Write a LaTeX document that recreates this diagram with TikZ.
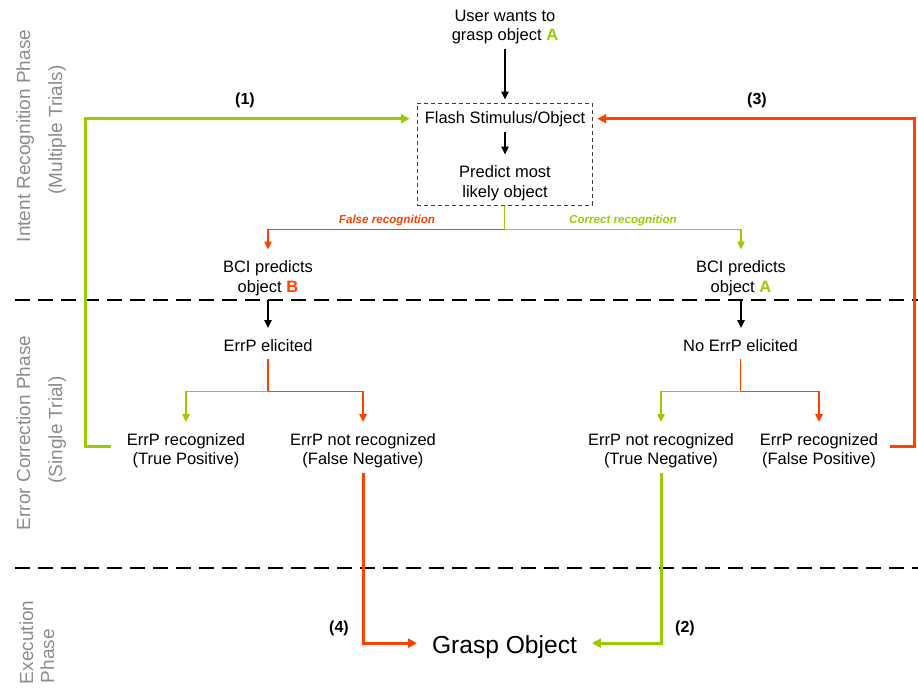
\documentclass[tikz,border=0pt]{standalone}
\usepackage{fontspec}
\setmainfont{Liberation Sans}
\usetikzlibrary{arrows.meta,calc}
\definecolor{accRed}{RGB}{255,64,0}
\definecolor{accGreen}{RGB}{153,204,0}
\definecolor{phaseGray}{RGB}{140,140,140}
\definecolor{boxGray}{RGB}{60,60,60}

\begin{document}
\begin{tikzpicture}[x=1pt,y=-1pt,
  % multi-line nodes: the base anchor sits on the last line
  txt/.style={inner sep=0pt, outer sep=0pt, align=center, anchor=base,
    font=\fontsize{16.5}{19.5}\selectfont},
  phase/.style={inner sep=0pt, outer sep=0pt, rotate=90, text=phaseGray,
    font=\fontsize{19}{21}\selectfont},
  tag/.style={inner sep=0pt, anchor=base, font=\fontsize{16}{19}\selectfont\bfseries},
  branchlbl/.style={inner sep=0pt, anchor=base, font=\fontsize{11.6}{14}\selectfont\bfseries\itshape},
  flow/.style={line width=1.3pt, -{Triangle[length=8pt,width=7.5pt]}},
  link/.style={line width=1.3pt},
  loopback/.style={line width=3pt, -{Triangle[length=9pt,width=9pt]}},
  sep/.style={line width=2pt, dash pattern=on 15pt off 8pt},
  stagebox/.style={draw=boxGray, line width=1pt, dash pattern=on 4pt off 3pt,
    minimum width=175pt, minimum height=102pt, inner sep=0pt},
]
\useasboundingbox (0,0) rectangle (918,688);

% phase separators
\draw[sep] (15,300) -- (918,300);
\draw[sep] (15,568) -- (918,568);

% phase titles
\node[phase, anchor=base] (ph1) at (30,136) {Intent Recognition Phase};
\node[phase, anchor=base] (ph1b) at (62,130) {(Multiple Trials)};
\node[phase, anchor=base] (ph2) at (30,433) {Error Correction Phase};
\node[phase, anchor=base] (ph2b) at (62,430) {(Single Trial)};
\node[phase, anchor=base west] (ph3) at (33,684) {Execution};
\node[phase, anchor=base west] (ph3b) at (54,683) {Phase};

% intent recognition
\node[txt] (user) at (505,40.5) {User wants to\\grasp object {\bfseries\color{accGreen}A}};
\node[stagebox] (box) at (504.5,154) {};
\node[txt] (flash) at (505,123) {Flash Stimulus/Object};
\node[txt] (predict) at (505,197) {Predict most\\likely object};
\node[txt] (bciB) at (268,292) {BCI predicts\\object {\bfseries\color{accRed}B}};
\node[txt] (bciA) at (741,292) {BCI predicts\\object {\bfseries\color{accGreen}A}};

% error correction
\node[txt] (errB) at (268,351) {ErrP elicited};
\node[txt] (errA) at (740.5,351) {No ErrP elicited};
\node[txt] (tpB) at (186,464.5) {ErrP recognized\\(True Positive)};
\node[txt] (fnB) at (363,464.5) {ErrP not recognized\\(False Negative)};
\node[txt] (tnA) at (661,464.5) {ErrP not recognized\\(True Negative)};
\node[txt] (fpA) at (819,464.5) {ErrP recognized\\(False Positive)};

% execution
\node[txt, font=\fontsize{24.6}{28}\selectfont] (grasp) at (504.5,653) {Grasp Object};

% branch labels and loop tags
\node[branchlbl, text=accRed] (lblF) at (387,223) {False recognition};
\node[branchlbl, text=accGreen] (lblC) at (623,223) {Correct recognition};
\node[tag] (t1) at (245,104) {(1)};
\node[tag] (t3) at (757,104) {(3)};
\node[tag] (t4) at (339,632) {(4)};
\node[tag] (t2) at (685,632) {(2)};

% main flow
\draw[flow, shorten <=5pt, shorten >=3pt] (user.south) -- (user.south |- box.north);
\draw[flow, shorten <=5.5pt, shorten >=11pt] (flash.south) -- (flash.south |- predict.north);

\draw[link, accGreen] (box.south) -- ++(0,24);
\draw[flow, accRed, shorten >=11pt] ($(box.south)+(0,24)$) -| (bciB.north);
\draw[flow, accGreen, shorten >=11pt] ($(box.south)+(0,24)$) -| (bciA.north);

\draw[flow, shorten <=4.5pt, shorten >=11pt] (bciB.south) -- (bciB.south |- errB.north);
\draw[flow, shorten <=4.5pt, shorten >=11pt] (bciA.south) -- (bciA.south |- errA.north);

\draw[link, accRed, shorten <=8pt] (errB.south) -- ++(0,40);
\draw[flow, accGreen, shorten >=11pt] ($(errB.south)+(0,40)$) -| (tpB.north);
\draw[flow, accRed, shorten >=11pt] ($(errB.south)+(0,40)$) -| (fnB.north);

\draw[link, accRed, shorten <=8pt] (errA.south) -- ++(0,40);
\draw[flow, accGreen, shorten >=11pt] ($(errA.south)+(0,40)$) -| (tnA.north);
\draw[flow, accRed, shorten >=11pt] ($(errA.south)+(0,40)$) -| (fpA.north);

% loop-backs and execution links
\draw[loopback, accGreen, shorten >=15pt]
  ([xshift=-16pt,yshift=4pt]tpB.west) -- ++(-25,0) |- (flash.west);
\draw[loopback, accRed, shorten >=12pt]
  ([xshift=12pt,yshift=4pt]fpA.east) -- ++(24,0) |- (flash.east);
\draw[loopback, accRed, shorten <=5.5pt, shorten >=15pt]
  (fnB.south) |- ([yshift=3.5pt]grasp.west);
\draw[loopback, accGreen, shorten <=5.5pt, shorten >=15pt]
  (tnA.south) |- ([yshift=3.5pt]grasp.east);
\end{tikzpicture}
\end{document}
